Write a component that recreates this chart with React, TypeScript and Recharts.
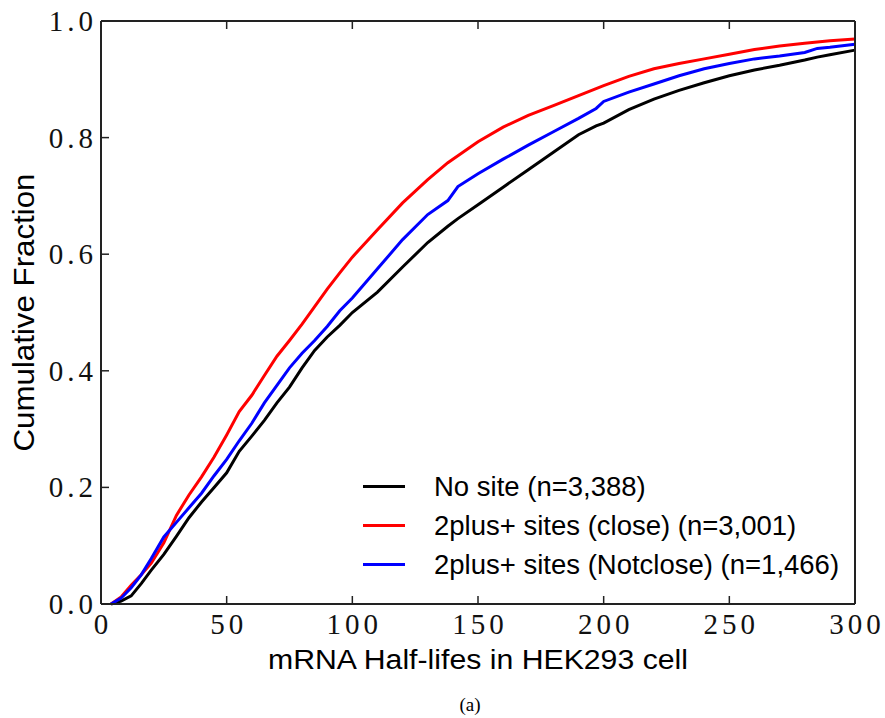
import { LineChart, Line, XAxis, YAxis } from 'recharts'

// x: mRNA half-life, y: cumulative fraction
const halfLife = [4, 8, 12, 16, 20, 25, 30, 35, 40, 45, 50, 55, 60, 65, 70, 75, 80, 85, 90, 95, 100, 110, 120, 130, 138, 142, 150, 160, 170, 180, 190, 197, 200, 210, 220, 230, 240, 250, 260, 270, 280, 285, 290, 300]
const noSite = [0, 0.005, 0.014, 0.035, 0.058, 0.085, 0.116, 0.148, 0.175, 0.2, 0.225, 0.262, 0.288, 0.315, 0.345, 0.372, 0.405, 0.435, 0.458, 0.478, 0.5, 0.535, 0.578, 0.62, 0.648, 0.661, 0.685, 0.715, 0.745, 0.775, 0.805, 0.82, 0.825, 0.848, 0.866, 0.881, 0.894, 0.906, 0.916, 0.924, 0.933, 0.938, 0.942, 0.95]
const closeSites = [0, 0.012, 0.032, 0.05, 0.07, 0.105, 0.152, 0.187, 0.218, 0.252, 0.29, 0.33, 0.358, 0.392, 0.425, 0.452, 0.48, 0.51, 0.54, 0.568, 0.595, 0.642, 0.688, 0.728, 0.757, 0.769, 0.793, 0.818, 0.838, 0.855, 0.872, 0.884, 0.889, 0.905, 0.918, 0.927, 0.935, 0.943, 0.951, 0.957, 0.962, 0.964, 0.966, 0.969]
const notCloseSites = [0, 0.01, 0.028, 0.05, 0.078, 0.115, 0.14, 0.165, 0.19, 0.22, 0.248, 0.28, 0.31, 0.345, 0.375, 0.405, 0.43, 0.452, 0.476, 0.503, 0.525, 0.575, 0.625, 0.668, 0.692, 0.716, 0.738, 0.763, 0.787, 0.81, 0.833, 0.85, 0.862, 0.878, 0.892, 0.906, 0.918, 0.927, 0.935, 0.94, 0.946, 0.953, 0.955, 0.96]

const xTicks = [0, 50, 100, 150, 200, 250, 300]
const yTicks = [0, 0.2, 0.4, 0.6, 0.8, 1.0]

const seriesKeys = ['noSite', 'close', 'notClose']
const seriesNames = ['No site (n=3,388)', '2plus+ sites (close) (n=3,001)', '2plus+ sites (Notclose) (n=1,466)']
const seriesColors = ['#000000', '#ff0000', '#0000ff']

const data = halfLife.map((x, i) => ({
  x,
  noSite: noSite[i],
  close: closeSites[i],
  notClose: notCloseSites[i],
}))

const SERIF = '"Liberation Serif", "Times New Roman", serif'
const SANS = '"Liberation Sans", Arial, sans-serif'
const AXIS = '#222'
const TICK = -8 // negative tick size -> tick marks point into the plot

const BottomTick = ({ x, y, payload }: any) => (
  <text x={x + 2} y={y + 38} textAnchor="middle" fontFamily={SERIF} fontSize={29} letterSpacing={4} fill="#111">
    {payload.value}
  </text>
)

const LeftTick = ({ x, y, payload }: any) => (
  <text x={x - 12} y={y + 10} textAnchor="end" fontFamily={SERIF} fontSize={29} letterSpacing={4} fill="#111">
    {Number(payload.value).toFixed(1)}
  </text>
)

const XLabel = ({ viewBox }: any) => (
  <text
    x={viewBox.x + viewBox.width / 2}
    y={669}
    textAnchor="middle"
    fontFamily={SANS}
    fontSize={27}
    textLength={420}
    lengthAdjust="spacingAndGlyphs"
    fill="#000"
  >
    mRNA Half-lifes in HEK293 cell
  </text>
)

const YLabel = ({ viewBox }: any) => {
  const cy = viewBox.y + viewBox.height / 2
  return (
    <text
      x={34}
      y={cy}
      transform={`rotate(-90, 34, ${cy})`}
      textAnchor="middle"
      fontFamily={SANS}
      fontSize={29}
      textLength={278}
      lengthAdjust="spacingAndGlyphs"
      fill="#000"
    >
      Cumulative Fraction
    </text>
  )
}

function LegendBox() {
  return (
    <div style={{ position: 'absolute', left: 363, top: 467, display: 'flex', flexDirection: 'column' }}>
      {seriesNames.map((name, i) => (
        <div key={name} style={{ display: 'flex', alignItems: 'center', height: 39 }}>
          <div style={{ width: 42, height: 3, background: seriesColors[i], marginRight: 29 }} />
          <span style={{ fontFamily: SANS, fontSize: 27.5, color: '#000', lineHeight: '39px', whiteSpace: 'nowrap' }}>
            {name}
          </span>
        </div>
      ))}
    </div>
  )
}

const frame = { stroke: AXIS, strokeWidth: 2 }
const tickMark = { stroke: AXIS, strokeWidth: 1.5 }

export default function App() {
  return (
    <div style={{ position: 'absolute', left: 0, top: 0, width: 885, height: 718, background: '#fff' }}>
      <LineChart width={885} height={718} data={data} margin={{ top: 20, right: 29, bottom: 113, left: 100 }}>
        <XAxis
          dataKey="x"
          type="number"
          domain={[0, 300]}
          ticks={xTicks}
          interval={0}
          height={1}
          tickSize={TICK}
          tickMargin={0}
          tickLine={tickMark}
          axisLine={frame}
          tick={BottomTick}
          label={<XLabel />}
        />
        <XAxis
          xAxisId="top"
          dataKey="x"
          orientation="top"
          type="number"
          domain={[0, 300]}
          ticks={xTicks}
          interval={0}
          height={1}
          tickSize={TICK}
          tickMargin={0}
          tickLine={tickMark}
          tick={() => <g />}
          axisLine={frame}
        />
        <YAxis
          type="number"
          domain={[0, 1]}
          ticks={yTicks}
          interval={0}
          width={1}
          tickSize={TICK}
          tickMargin={0}
          tickLine={tickMark}
          axisLine={frame}
          tick={LeftTick}
          label={<YLabel />}
        />
        <YAxis
          yAxisId="right"
          orientation="right"
          type="number"
          domain={[0, 1]}
          ticks={yTicks}
          interval={0}
          width={1}
          tickSize={TICK}
          tickMargin={0}
          tickLine={tickMark}
          tick={() => <g />}
          axisLine={frame}
        />
        {seriesKeys.map((key, i) => (
          <Line
            key={key}
            dataKey={key}
            name={seriesNames[i]}
            stroke={seriesColors[i]}
            strokeWidth={3}
            dot={false}
            isAnimationActive={false}
          />
        ))}
      </LineChart>
      <LegendBox />
      <div
        style={{
          position: 'absolute',
          left: 0,
          width: 940,
          top: 694,
          textAlign: 'center',
          fontFamily: SERIF,
          fontSize: 19,
          lineHeight: '22px',
          color: '#000',
        }}
      >
        (a)
      </div>
    </div>
  )
}
